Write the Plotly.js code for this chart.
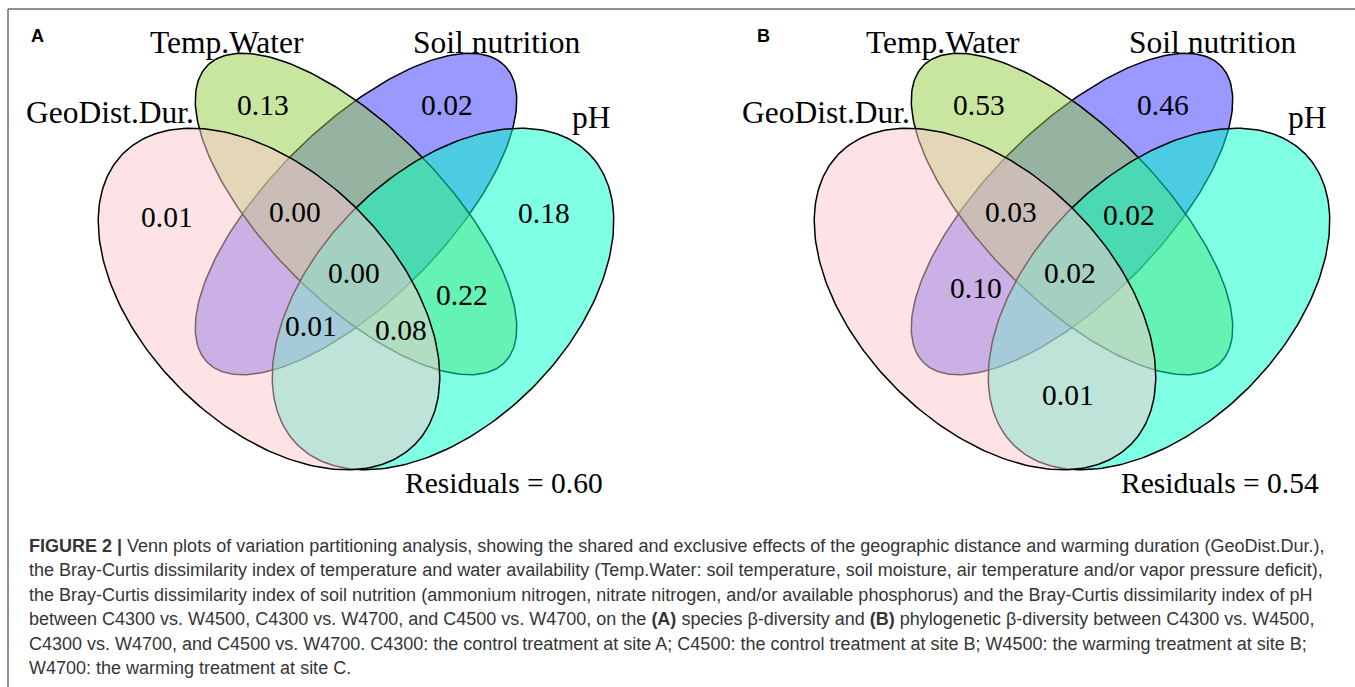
<!DOCTYPE html>
<html>
<head>
<meta charset="utf-8">
<script src="https://cdn.plot.ly/plotly-3.0.1.min.js"></script>
<style>
html,body{margin:0;padding:0;background:#ffffff;}
#chart{width:1355px;height:687px;}
</style>
</head>
<body>
<div id="chart"></div>
<script>
// ---------------- data ----------------
const setNames = ["GeoDist.Dur.", "Temp.Water", "Soil nutrition", "pH"];
// regions: G=GeoDist, T=Temp.Water, S=Soil nutrition, P=pH
const regionNames = ["G", "T", "S", "P", "GTS", "TSP", "GS", "TP", "GTSP", "GSP", "GTP", "GP"];
const valuesA = [0.01, 0.13, 0.02, 0.18, 0.00, null, null, 0.22, 0.00, 0.01, 0.08, null];
const valuesB = [null, 0.53, 0.46, null, 0.03, 0.02, 0.10, null, 0.02, null, null, 0.01];
const residuals = [0.60, 0.54];
const panelLetters = ["A", "B"];
const captionLines = [
  "<b>FIGURE 2 |</b> Venn plots of variation partitioning analysis, showing the shared and exclusive effects of the geographic distance and warming duration (GeoDist.Dur.),",
  "the Bray-Curtis dissimilarity index of temperature and water availability (Temp.Water: soil temperature, soil moisture, air temperature and/or vapor pressure deficit),",
  "the Bray-Curtis dissimilarity index of soil nutrition (ammonium nitrogen, nitrate nitrogen, and/or available phosphorus) and the Bray-Curtis dissimilarity index of pH",
  "between C4300 vs. W4500, C4300 vs. W4700, and C4500 vs. W4700, on the <b>(A)</b> species β-diversity and <b>(B)</b> phylogenetic β-diversity between C4300 vs. W4500,",
  "C4300 vs. W4700, and C4500 vs. W4700. C4300: the control treatment at site A; C4500: the control treatment at site B; W4500: the warming treatment at site B;",
  "W4700: the warming treatment at site C."
];

// ---------------- layout constants (geometry / style) ----------------
const panelValues = [valuesA, valuesB];
const panelOffsetX = [0, 716];
const ellipseCenters = [[269, 299], [356, 214], [356, 214], [443, 299]];
const ellipseAxes = [[206, 126], [210, 87], [210, 87], [206, 126]];
const ellipseTilt = [1, 1, -1, -1];
const ellipseFill = ["rgba(253,200,205,0.5)", "rgba(147,205,67,0.5)", "rgba(51,51,255,0.5)", "rgba(0,255,200,0.5)"];
const drawOrder = [2, 1, 3, 0];
const regionPos = {
  G: [167, 217], T: [263, 105], S: [447, 105], P: [544, 213],
  GTS: [295, 212], TSP: [413, 215], GS: [260, 288], TP: [462, 295],
  GTSP: [354, 273], GSP: [311, 326], GTP: [401, 330], GP: [352, 395]
};
const setLabelPos = [[110, 112], [227, 42], [496, 42], [591, 117]];
const residualPos = [504, 483];
const letterPosX = [37, 763];
const letterPosY = 36;
const captionX = 27;
const captionY0 = 546;
const captionDY = 24.4;

const serif = "Liberation Serif, Times New Roman, serif";
const sans = "Liberation Sans, Arial, Helvetica, sans-serif";
const labelSize = 29.5;
const setLabelSize = 31.5;

function ellipsePts(cx, cy, a, b, tilt) {
  const ux = Math.SQRT1_2, uy = tilt * Math.SQRT1_2;
  const vx = tilt * Math.SQRT1_2, vy = -Math.SQRT1_2;
  const xs = [], ys = [];
  const n = 240;
  for (let i = 0; i <= n; i++) {
    const t = 2 * Math.PI * i / n;
    const c = Math.cos(t), s = Math.sin(t);
    xs.push(cx + a * c * ux + b * s * vx);
    ys.push(cy + a * c * uy + b * s * vy);
  }
  return [xs, ys];
}

const traces = [];
const annotations = [];

for (let p = 0; p < 2; p++) {
  const ox = panelOffsetX[p];
  drawOrder.forEach(k => {
    const [xs, ys] = ellipsePts(ellipseCenters[k][0] + ox, ellipseCenters[k][1], ellipseAxes[k][0], ellipseAxes[k][1], ellipseTilt[k]);
    traces.push({
      type: "scatter", mode: "lines", x: xs, y: ys,
      fill: "toself", fillcolor: ellipseFill[k],
      line: {color: "#000000", width: 1.5},
      hoverinfo: "skip", name: setNames[k], showlegend: false
    });
  });
  // set labels
  setNames.forEach((nm, k) => {
    annotations.push({
      x: setLabelPos[k][0] + ox, y: setLabelPos[k][1], xref: "x", yref: "y",
      text: nm, showarrow: false, xanchor: "center", yanchor: "middle",
      font: {family: serif, size: setLabelSize, color: "#000"}
    });
  });
  // region values
  const vals = panelValues[p];
  regionNames.forEach((r, i) => {
    if (vals[i] === null) return;
    annotations.push({
      x: regionPos[r][0] + ox, y: regionPos[r][1], xref: "x", yref: "y",
      text: vals[i].toFixed(2), showarrow: false, xanchor: "center", yanchor: "middle",
      font: {family: serif, size: labelSize, color: "#000"}
    });
  });
  annotations.push({
    x: residualPos[0] + ox, y: residualPos[1], xref: "x", yref: "y",
    text: "Residuals = " + residuals[p].toFixed(2), showarrow: false,
    xanchor: "center", yanchor: "middle",
    font: {family: serif, size: labelSize, color: "#000"}
  });
  annotations.push({
    x: letterPosX[p], y: letterPosY, xref: "x", yref: "y",
    text: "<b>" + panelLetters[p] + "</b>", showarrow: false,
    xanchor: "center", yanchor: "middle",
    font: {family: sans, size: 18, color: "#000"}
  });
}

captionLines.forEach((ln, i) => {
  annotations.push({
    x: captionX, y: captionY0 + i * captionDY, xref: "x", yref: "y",
    text: ln, showarrow: false, xanchor: "left", yanchor: "middle", align: "left",
    font: {family: sans, size: 18, color: "#353535"}
  });
});

const layout = {
  width: 1355, height: 687,
  margin: {l: 0, r: 0, t: 0, b: 0, pad: 0},
  paper_bgcolor: "#ffffff", plot_bgcolor: "#ffffff",
  showlegend: false,
  xaxis: {range: [0, 1355], visible: false, fixedrange: true},
  yaxis: {range: [687, 0], visible: false, fixedrange: true},
  annotations: annotations,
  shapes: [
    {type: "line", xref: "x", yref: "y", x0: 8, x1: 1355, y0: 9, y1: 9, line: {color: "#6a6a6a", width: 1.5}},
    {type: "line", xref: "x", yref: "y", x0: 8, x1: 8, y0: 9, y1: 687, line: {color: "#6a6a6a", width: 1.5}}
  ]
};

Plotly.newPlot("chart", traces, layout, {displayModeBar: false, staticPlot: true});
</script>
</body>
</html>
